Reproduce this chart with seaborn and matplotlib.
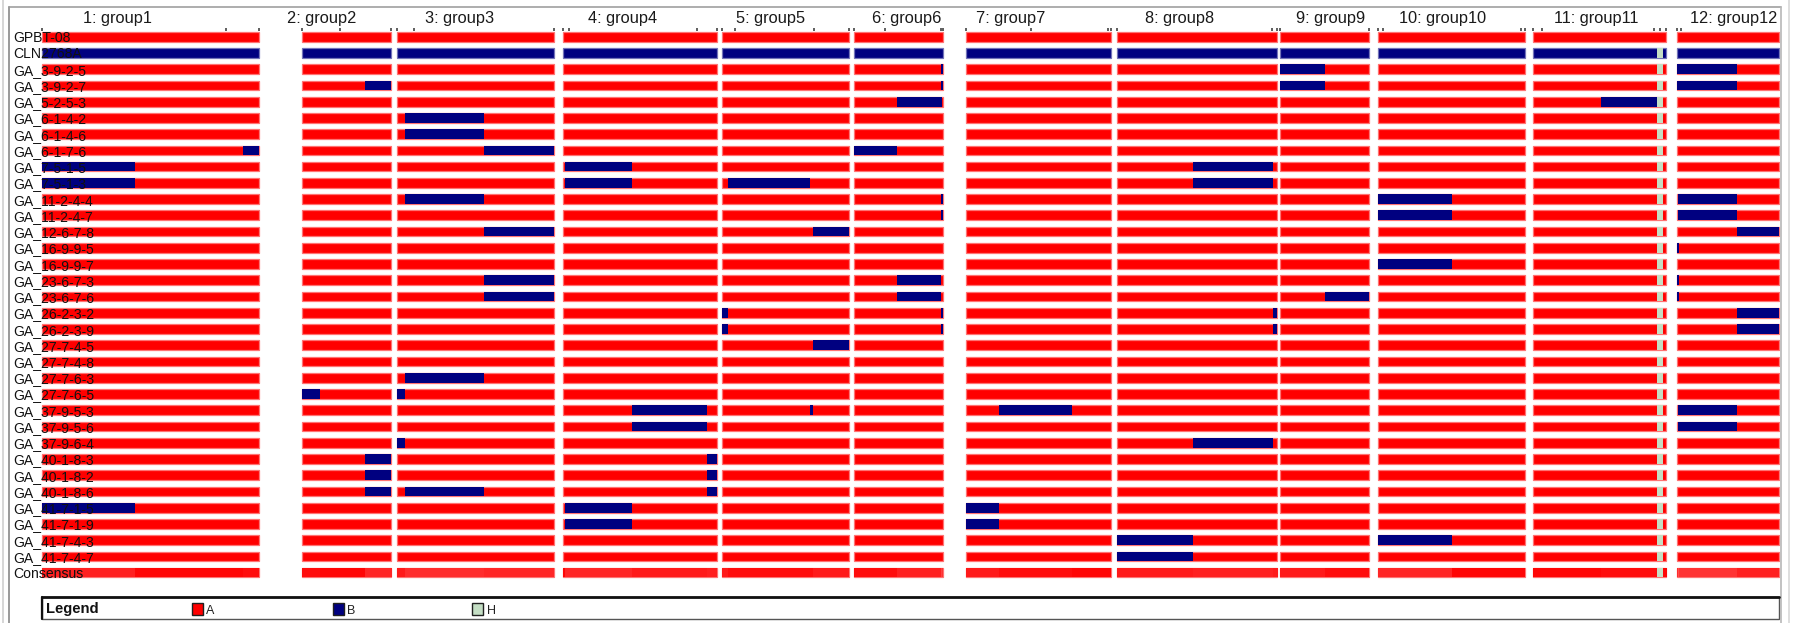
import numpy as np
import matplotlib
matplotlib.use("Agg")
import matplotlib.pyplot as plt
import seaborn as sns
from matplotlib.patches import Rectangle
from matplotlib.lines import Line2D
from matplotlib.colors import to_rgb

# ---------------------------------------------------------------- data
samples = [
    "GPBT-08", "CLN2768A", "GA_3-9-2-5", "GA_3-9-2-7", "GA_5-2-5-3",
    "GA_6-1-4-2", "GA_6-1-4-6", "GA_6-1-7-6", "GA_7-5-1-5", "GA_7-5-1-3",
    "GA_11-2-4-4", "GA_11-2-4-7", "GA_12-6-7-8", "GA_16-9-9-5", "GA_16-9-9-7",
    "GA_23-6-7-3", "GA_23-6-7-6", "GA_26-2-3-2", "GA_26-2-3-9", "GA_27-7-4-5",
    "GA_27-7-4-8", "GA_27-7-6-3", "GA_27-7-6-5", "GA_37-9-5-3", "GA_37-9-5-6",
    "GA_37-9-6-4", "GA_40-1-8-3", "GA_40-1-8-2", "GA_40-1-8-6", "GA_41-7-1-5",
    "GA_41-7-1-9", "GA_41-7-4-3", "GA_41-7-4-7",
]
consensus_label = "Consensus"

group_labels = ["1: group1", "2: group2", "3: group3", "4: group4", "5: group5",
                "6: group6", "7: group7", "8: group8", "9: group9", "10: group10",
                "11: group11", "12: group12"]
# start / end of each linkage group along the map axis
group_start = [42, 302, 397, 563, 722.5, 854, 966, 1117, 1280, 1378.5, 1533, 1677]
group_end = [259, 391.5, 554, 717, 849, 942.6, 1111, 1277.5, 1369, 1525, 1666.5, 1779]

# marker ticks, % along each group
group_markers = [
    [0, 84.7, 100], [0, 43, 100], [0, 11, 100], [0, 4, 87, 100],
    [0, 10, 72, 100], [0, 35, 98, 100], [0, 45, 98, 100], [0, 96.4, 100],
    [0, 100], [0, 3, 97, 100], [0, 7, 91, 95, 100], [0, 4],
]

donor_parent = "CLN2768A"          # B allele along every group

# introgressed B segments: (sample, group, start %, end %)
b_segments = [
    ("GA_6-1-7-6", 1, 92.8, 100), ("GA_7-5-1-5", 1, 0, 42.8),
    ("GA_7-5-1-3", 1, 0, 42.8), ("GA_41-7-1-5", 1, 0, 42.8),

    ("GA_3-9-2-7", 2, 70.8, 100), ("GA_27-7-6-5", 2, 0, 20.6),
    ("GA_40-1-8-3", 2, 70.8, 100), ("GA_40-1-8-2", 2, 70.8, 100),
    ("GA_40-1-8-6", 2, 70.8, 100),

    ("GA_6-1-4-2", 3, 4.9, 55.1), ("GA_6-1-4-6", 3, 4.9, 55.1),
    ("GA_6-1-7-6", 3, 55.1, 100), ("GA_11-2-4-4", 3, 4.9, 55.1),
    ("GA_12-6-7-8", 3, 55.1, 100), ("GA_23-6-7-3", 3, 55.1, 100),
    ("GA_23-6-7-6", 3, 55.1, 100), ("GA_27-7-6-3", 3, 4.9, 55.1),
    ("GA_27-7-6-5", 3, 0, 4.9), ("GA_37-9-6-4", 3, 0, 4.9),
    ("GA_40-1-8-6", 3, 4.9, 55.1),

    ("GA_7-5-1-5", 4, 1.6, 45), ("GA_7-5-1-3", 4, 1.6, 45),
    ("GA_37-9-5-3", 4, 45, 93.5), ("GA_37-9-5-6", 4, 45, 93.5),
    ("GA_40-1-8-3", 4, 93.5, 100), ("GA_40-1-8-2", 4, 93.5, 100),
    ("GA_40-1-8-6", 4, 93.5, 100), ("GA_41-7-1-5", 4, 1.6, 45),
    ("GA_41-7-1-9", 4, 1.6, 45),

    ("GA_7-5-1-3", 5, 4.2, 69.3), ("GA_12-6-7-8", 5, 71.2, 100),
    ("GA_26-2-3-2", 5, 0, 4.2), ("GA_26-2-3-9", 5, 0, 4.2),
    ("GA_27-7-4-5", 5, 71.2, 100), ("GA_37-9-5-3", 5, 69.3, 71.2),

    ("GA_3-9-2-5", 6, 98, 100), ("GA_3-9-2-7", 6, 98, 100),
    ("GA_5-2-5-3", 6, 48.6, 99), ("GA_6-1-7-6", 6, 0, 48.6),
    ("GA_11-2-4-4", 6, 98, 100), ("GA_11-2-4-7", 6, 98, 100),
    ("GA_23-6-7-3", 6, 48.6, 98), ("GA_23-6-7-6", 6, 48.6, 98),
    ("GA_26-2-3-2", 6, 98, 100), ("GA_26-2-3-9", 6, 98, 100),

    ("GA_37-9-5-3", 7, 22.6, 73.1), ("GA_41-7-1-5", 7, 0, 22.6),
    ("GA_41-7-1-9", 7, 0, 22.6),

    ("GA_7-5-1-5", 8, 47.1, 96.9), ("GA_7-5-1-3", 8, 47.1, 96.9),
    ("GA_26-2-3-2", 8, 96.9, 100), ("GA_26-2-3-9", 8, 96.9, 100),
    ("GA_37-9-6-4", 8, 47.1, 96.9), ("GA_41-7-4-3", 8, 0, 47.1),
    ("GA_41-7-4-7", 8, 0, 47.1),

    ("GA_3-9-2-5", 9, 0, 50.2), ("GA_3-9-2-7", 9, 0, 50.2),
    ("GA_23-6-7-6", 9, 50.2, 100),

    ("GA_11-2-4-4", 10, 0, 50.3), ("GA_11-2-4-7", 10, 0, 50.3),
    ("GA_16-9-9-7", 10, 0, 50.3), ("GA_41-7-4-3", 10, 0, 50.3),

    ("GA_5-2-5-3", 11, 50.9, 92.7),

    ("GA_3-9-2-5", 12, 0, 58.5), ("GA_3-9-2-7", 12, 0, 58.5),
    ("GA_11-2-4-4", 12, 1, 58.5), ("GA_11-2-4-7", 12, 1, 58.5),
    ("GA_12-6-7-8", 12, 58.5, 100), ("GA_16-9-9-5", 12, 0, 1.5),
    ("GA_23-6-7-3", 12, 0, 1.5), ("GA_23-6-7-6", 12, 0, 1.5),
    ("GA_26-2-3-2", 12, 58.5, 100), ("GA_26-2-3-9", 12, 58.5, 100),
    ("GA_37-9-5-3", 12, 1, 58.5), ("GA_37-9-5-6", 12, 1, 58.5),
]

# heterozygous block on group 11 (all lines except the recurrent parent)
h_group, h_start, h_end = 11, 92.7, 97.2
h_excluded = ["GPBT-08"]

allele_names = ["A", "B", "H"]
allele_colors = ["#ff0000", "#000080", "#c4dec4"]

# ---------------------------------------------------------------- genotype matrix
N_BINS = 1000
n_groups = len(group_labels)
geno = np.zeros((len(samples), n_groups, N_BINS), dtype=int)
row_of = {s: i for i, s in enumerate(samples)}


def to_bins(a, b):
    return int(round(a / 100 * N_BINS)), int(round(b / 100 * N_BINS))


geno[row_of[donor_parent], :, :] = 1
for s, g, a, b in b_segments:
    i0, i1 = to_bins(a, b)
    geno[row_of[s], g - 1, i0:i1] = 1
i0, i1 = to_bins(h_start, h_end)
for s in samples:
    if s not in h_excluded:
        geno[row_of[s], h_group - 1, i0:i1] = 2


def runs(values):
    """Return (start_bin, end_bin, value) runs of equal values."""
    out = []
    start = 0
    for k in range(1, len(values) + 1):
        if k == len(values) or values[k] != values[start]:
            out.append((start, k, values[start]))
            start = k
    return out


# ---------------------------------------------------------------- figure
sns.set_theme(style="white")
plt.rcParams["font.family"] = ["Liberation Sans", "DejaVu Sans"]

W, H = 1799, 623
fig = plt.figure(figsize=(W / 100, H / 100), dpi=100)
fig.patch.set_facecolor("white")

row0_px, pitch_px = 36.7, 16.24
ax = fig.add_axes([0, 0, 1, 1])
ax.set_xlim(0, W)
ax.set_ylim((H - row0_px) / pitch_px, -row0_px / pitch_px)
ax.axis("off")

bar_h = 0.60
consensus_row = len(samples)
# horizontal centre of each group title in the header strip
title_x = [117, 322, 460, 623, 771, 907, 1011, 1180, 1331, 1443, 1596, 1734]


def halo(c):
    r, g, b = to_rgb(c)
    return (1 - 0.55 * (1 - r), 1 - 0.55 * (1 - g), 1 - 0.55 * (1 - b))


for gi in range(n_groups):
    x0, x1 = group_start[gi], group_end[gi]
    span = x1 - x0
    scale = span / N_BINS

    # sample rows: base allele bar, then other alleles on top
    for ri in range(len(samples)):
        row = geno[ri, gi]
        base = 0 if (row == 0).any() else np.bincount(row, minlength=3).argmax()
        ax.barh(ri, span, left=x0, height=bar_h, color=allele_colors[base],
                edgecolor=halo(allele_colors[base]), linewidth=0.9, zorder=2)
        for a, b, v in runs(row):
            if v != base:
                ax.barh(ri, (b - a) * scale, left=x0 + a * scale, height=bar_h,
                        color=allele_colors[v], linewidth=0, zorder=3)

    # consensus row: majority allele, lightened by the share of other alleles
    counts = np.stack([(geno[:, gi] == k).sum(axis=0) for k in range(3)])
    major = counts.argmax(axis=0)
    minority = 1 - counts.max(axis=0) / len(samples)
    shade = np.round(minority * 40).astype(int)
    key = major * 100 + shade
    ax.barh(consensus_row, span, left=x0, height=bar_h, color="#ff0000",
            edgecolor=halo("#ff0000"), linewidth=0.9, zorder=2)
    for a, b, v in runs(key):
        m, sh = divmod(v, 100)
        frac = min(sh / 40 * 1.0, 0.6)
        base = np.array(to_rgb(allele_colors[m]))
        col = base + (1 - base) * frac
        ax.barh(consensus_row, (b - a) * scale + 0.3, left=x0 + a * scale,
                height=bar_h, color=col, linewidth=0, zorder=3)

    # group title and marker ticks
    ax.text(title_x[gi], -0.83, group_labels[gi], ha="center", va="baseline",
            fontsize=11.8, color="#1a1a1a", zorder=6)
    tick_x = [x0 + p / 100 * span for p in group_markers[gi]]
    ax.vlines(tick_x, -0.52, -0.38, color="#333333", linewidth=1.1, zorder=6)

# row names written over the bars
for ri, name in enumerate(samples + [consensus_label]):
    ax.text(13, ri + 0.34, name, ha="left", va="baseline", fontsize=10.1,
            color="#111111", zorder=7)

# panel frame
frame = [
    ([9.3, 1781], [H - 6.7, H - 6.7], "#a0a0a0", 1.2),
    ([2.7, 2.7], [0, H], "#d0d0d0", 1.2),
    ([9.3, 9.3], [0, H - 6.7], "#9a9a9a", 1.4),
    ([1781, 1781], [0, H - 6.7], "#b8b8b8", 1.2),
    ([1789, 1789], [0, H], "#d8d8d8", 1.2),
]
for xs, ys, c, lw in frame:
    fig.add_artist(Line2D([x / W for x in xs], [y / H for y in ys],
                          color=c, linewidth=lw, transform=fig.transFigure))

# legend strip
lx0, lx1, ly_top, ly_bot = 42, 1779, 596.7, 619.3
fig.add_artist(Rectangle((lx0 / W, 1 - ly_bot / H), (lx1 - lx0) / W,
                         (ly_bot - ly_top) / H, transform=fig.transFigure,
                         facecolor="white", edgecolor="#555555", linewidth=1.0))
fig.add_artist(Line2D([lx0 / W, lx1 / W], [1 - ly_top / H] * 2, color="#111111",
                      linewidth=2.0, transform=fig.transFigure))
fig.add_artist(Line2D([lx0 / W] * 2, [1 - ly_bot / H, 1 - ly_top / H],
                      color="#111111", linewidth=1.6, transform=fig.transFigure))
fig.text(46 / W, 1 - 613.5 / H, "Legend", fontsize=10.6, fontweight="bold",
         ha="left", va="baseline", color="#111111")
key_x = [191.6, 332.5, 472.5]
for kx, name, col in zip(key_x, allele_names, allele_colors):
    fig.add_artist(Rectangle((kx / W, 1 - 615 / H), 11 / W, 12 / H,
                             transform=fig.transFigure, facecolor=col,
                             edgecolor="#202020", linewidth=1.0))
    fig.text((kx + 14.5) / W, 1 - 613.5 / H, name, fontsize=9, ha="left",
             va="baseline", color="#222222")

fig.savefig("out.png", dpi=100, facecolor="white")
